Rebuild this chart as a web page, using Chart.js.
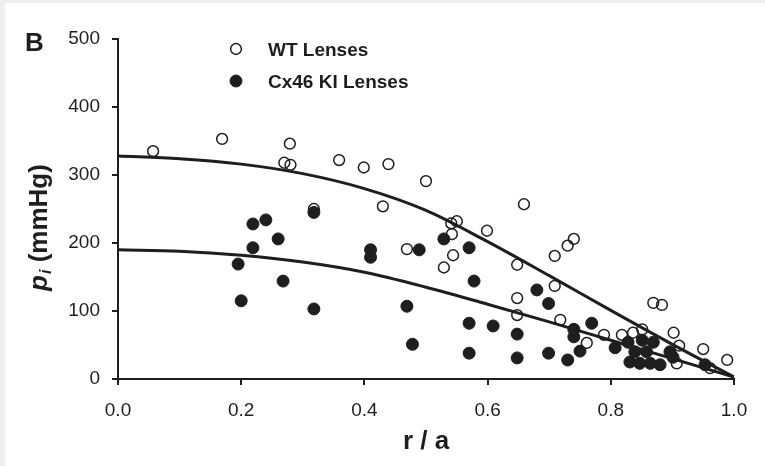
<!DOCTYPE html>
<html lang="en">
<head>
    <meta charset="UTF-8">
    <title>Intracellular pressure vs r/a</title>
    <script src="https://cdn.jsdelivr.net/npm/chart.js"></script>
    <style>
        html, body { margin: 0; padding: 0; background: #efefef; }
        #wrap { position: absolute; left: 5px; top: 3px; width: 760px; height: 463px; background: #fff; }
    </style>
</head>
<body>
    <div id="wrap"><canvas id="pressureChart" width="760" height="463"></canvas></div>

    <script>
        // WT lenses (open circles): r/a and p_i (mmHg)
        const wtR = [0.057, 0.169, 0.279, 0.270, 0.280, 0.359, 0.399, 0.439, 0.430, 0.500,
                     0.318, 0.469, 0.541, 0.550, 0.542, 0.544, 0.529, 0.599, 0.659, 0.648,
                     0.648, 0.648, 0.709, 0.730, 0.740, 0.709, 0.718, 0.761, 0.789, 0.818,
                     0.836, 0.851, 0.869, 0.883, 0.902, 0.911, 0.907, 0.950, 0.961, 0.989];
        const wtP = [335, 353, 346, 318, 315, 322, 311, 316, 254, 291,
                     250, 191, 229, 232, 213, 182, 164, 218, 257, 168,
                     119, 94, 181, 196, 206, 137, 87, 53, 65, 65,
                     68, 73, 112, 109, 68, 49, 23, 44, 16, 28];

        // Cx46 KI lenses (filled circles)
        const kiR = [0.195, 0.200, 0.219, 0.219, 0.240, 0.260, 0.268, 0.318, 0.318, 0.410,
                     0.410, 0.469, 0.478, 0.489, 0.529, 0.570, 0.578, 0.570, 0.570, 0.609,
                     0.648, 0.648, 0.680, 0.699, 0.699, 0.730, 0.740, 0.740, 0.750, 0.769,
                     0.807, 0.828, 0.851, 0.869, 0.831, 0.847, 0.864, 0.880, 0.839, 0.858,
                     0.896, 0.901, 0.953];
        const kiP = [169, 115, 228, 193, 234, 206, 144, 245, 103, 190,
                     179, 107, 51, 190, 206, 193, 144, 82, 38, 78,
                     66, 31, 131, 111, 38, 28, 73, 62, 41, 82,
                     46, 54, 57, 54, 25, 23, 23, 21, 40, 40,
                     40, 32, 21];

        // fitted curves
        const fitR = [0, 0.1, 0.2, 0.3, 0.4, 0.5, 0.6, 0.7, 0.8, 0.9, 1.0];
        const wtFit = [328, 324, 316, 302, 280, 248, 202, 152, 101, 51, 3];
        const kiFit = [190, 188, 182, 172, 157, 135, 110, 84, 57, 30, 3];

        const xTicks = [0, 0.2, 0.4, 0.6, 0.8, 1.0];
        const yTicks = [0, 100, 200, 300, 400, 500];

        const INK = "#1e1e1e";
        const FONT = "'Liberation Sans', Arial, Helvetica, sans-serif";

        const pairs = (xs, ys) => xs.map((x, i) => ({ x: x, y: ys[i] }));

        // extra text: panel letter, y title with subscript, legend
        const annotations = {
            id: "annotations",
            afterDraw(chart) {
                const ctx = chart.ctx;
                ctx.save();
                ctx.fillStyle = INK;
                ctx.textBaseline = "middle";

                ctx.font = "bold 26px " + FONT;
                ctx.textAlign = "left";
                ctx.fillText("B", 20, 41);

                // y title: p_i (mmHg)
                ctx.save();
                ctx.translate(35, 225);
                ctx.rotate(-Math.PI / 2);
                const fP = "italic bold 26px " + FONT;
                const fI = "italic bold 16px " + FONT;
                const fRest = "bold 26px " + FONT;
                ctx.font = fP; const wP = ctx.measureText("p").width;
                ctx.font = fI; const wI = ctx.measureText("i").width;
                ctx.font = fRest; const wRest = ctx.measureText(" (mmHg)").width;
                let x0 = -(wP + wI + wRest) / 2;
                ctx.font = fP; ctx.fillText("p", x0, 0);
                ctx.font = fI; ctx.fillText("i", x0 + wP + 1, 7);
                ctx.font = fRest; ctx.fillText(" (mmHg)", x0 + wP + wI + 1, 0);
                ctx.restore();

                // legend
                const items = [
                    { ds: chart.data.datasets[1], y: 46 },
                    { ds: chart.data.datasets[0], y: 78 }
                ];
                items.forEach(it => {
                    ctx.beginPath();
                    ctx.arc(231, it.y, it.ds.pointRadius, 0, Math.PI * 2);
                    ctx.fillStyle = it.ds.backgroundColor;
                    ctx.fill();
                    ctx.lineWidth = it.ds.borderWidth;
                    ctx.strokeStyle = it.ds.borderColor;
                    ctx.stroke();
                    ctx.fillStyle = INK;
                    ctx.font = "bold 19px " + FONT;
                    ctx.fillText(it.ds.label, 263, it.y + 2);
                });
                ctx.restore();
            }
        };

        new Chart(document.getElementById("pressureChart"), {
            type: "scatter",
            data: {
                datasets: [
                    { label: "Cx46 KI Lenses", data: pairs(kiR, kiP), pointRadius: 6, borderWidth: 1,
                      backgroundColor: INK, borderColor: INK },
                    { label: "WT Lenses", data: pairs(wtR, wtP), pointRadius: 5.4, borderWidth: 1.5,
                      backgroundColor: "rgba(255,255,255,0)", borderColor: INK },
                    { label: "WT fit", data: pairs(fitR, wtFit), showLine: true, pointRadius: 0,
                      borderColor: INK, borderWidth: 3, cubicInterpolationMode: "monotone" },
                    { label: "KI fit", data: pairs(fitR, kiFit), showLine: true, pointRadius: 0,
                      borderColor: INK, borderWidth: 3, cubicInterpolationMode: "monotone" }
                ]
            },
            options: {
                responsive: false,
                animation: false,
                devicePixelRatio: 1,
                layout: { padding: { left: 0, right: 31, top: 36, bottom: 0 } },
                plugins: { legend: { display: false }, tooltip: { enabled: false } },
                scales: {
                    x: {
                        type: "linear", min: 0, max: 1,
                        afterFit: s => { s.height = 87; },
                        afterBuildTicks: s => { s.ticks = xTicks.map(v => ({ value: v })); },
                        ticks: { color: INK, font: { family: FONT, size: 19 }, padding: 14,
                                 callback: v => v.toFixed(1) },
                        grid: { drawOnChartArea: false, drawTicks: true, tickLength: 6, color: INK, lineWidth: 2 },
                        border: { display: true, color: INK, width: 2 },
                        title: { display: true, text: "r / a", color: INK,
                                 font: { family: FONT, size: 26, weight: "bold" }, padding: { bottom: 9 } }
                    },
                    y: {
                        min: 0, max: 500,
                        afterFit: s => { s.width = 113; },
                        afterBuildTicks: s => { s.ticks = yTicks.map(v => ({ value: v })); },
                        ticks: { color: INK, font: { family: FONT, size: 19 }, padding: 12 },
                        grid: { drawOnChartArea: false, drawTicks: true, tickLength: 6, color: INK, lineWidth: 2 },
                        border: { display: true, color: INK, width: 2 }
                    }
                }
            },
            plugins: [annotations]
        });
    </script>
</body>
</html>
